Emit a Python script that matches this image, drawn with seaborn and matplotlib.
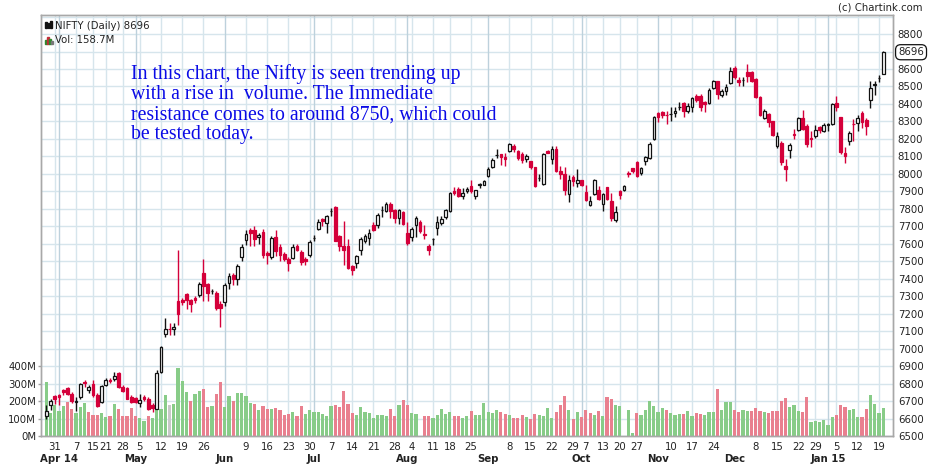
import numpy as np
import pandas as pd
import seaborn as sns
import matplotlib.pyplot as plt
from matplotlib.patches import Rectangle

# trading days shown on the chart, grouped by month
month_days = [
    ('2014-03', [27, 28, 31]),
    ('2014-04', [1, 2, 3, 4, 7, 9, 10, 11, 15, 16, 17, 21, 22, 23, 25, 28, 29, 30]),
    ('2014-05', [2, 5, 6, 7, 8, 9, 12, 13, 14, 15, 16, 19, 20, 21, 22, 23, 26, 27, 28, 29, 30]),
    ('2014-06', [2, 3, 4, 5, 6, 9, 10, 11, 12, 13, 16, 17, 18, 19, 20, 23, 24, 25, 26, 27, 30]),
    ('2014-07', [1, 2, 3, 4, 7, 8, 9, 10, 11, 14, 15, 16, 17, 18, 21, 22, 23, 24, 25, 28, 30, 31]),
    ('2014-08', [1, 4, 5, 6, 7, 8, 11, 12, 13, 14, 18, 19, 20, 21, 22, 25, 26, 27, 28]),
    ('2014-09', [1, 2, 3, 4, 5, 8, 9, 10, 11, 12, 15, 16, 17, 18, 19, 22, 23, 24, 25, 26, 29, 30]),
    ('2014-10', [1, 7, 8, 9, 10, 13, 14, 16, 17, 20, 21, 22, 23, 27, 28, 29, 30, 31]),
    ('2014-11', [3, 5, 7, 10, 11, 12, 13, 14, 17, 18, 19, 20, 21, 24, 25, 26, 27, 28]),
    ('2014-12', [1, 2, 3, 4, 5, 8, 9, 10, 11, 12, 15, 16, 17, 18, 19, 22, 23, 24, 26, 29, 30, 31]),
    ('2015-01', [1, 2, 5, 6, 7, 8, 9, 12, 13, 14, 15, 16, 19, 20]),
]

opens = [
    6615, 6675, 6730,
    6734, 6761, 6776, 6743, 6695, 6726, 6808, 6761, 6797, 6734, 6696, 6789, 6822, 6824, 6860, 6782, 6774, 6724,
    6715, 6686, 6722, 6711, 6677, 6657, 6864, 7082, 7113, 7111, 7272, 7279, 7315, 7279, 7292, 7306, 7435, 7367, 7327, 7319, 7258,
    7267, 7376, 7424, 7399, 7525, 7620, 7681, 7676, 7638, 7668, 7546, 7523, 7641, 7582, 7542, 7515, 7519, 7590, 7554, 7515, 7533,
    7632, 7683, 7740, 7720, 7788, 7809, 7643, 7589, 7589, 7475, 7490, 7563, 7614, 7633, 7706, 7706, 7793, 7786, 7828, 7794, 7748, 7782,
    7664, 7641, 7710, 7725, 7654, 7589, 7625, 7690, 7719, 7752, 7786, 7904, 7916, 7872, 7900, 7933, 7872, 7938, 7939,
    7986, 8040, 8108, 8114, 8099, 8130, 8162, 8133, 8116, 8086, 8072, 8038, 7975, 7944, 8130, 8086, 8145, 8019, 8002, 7885, 7981, 7948,
    7962, 7897, 7824, 7885, 7910, 7828, 7927, 7843, 7736, 7901, 7910, 8005, 8033, 8066, 8003, 8075, 8088, 8199,
    8346, 8352, 8337, 8340, 8346, 8382, 8403, 8362, 8381, 8444, 8444, 8409, 8405, 8491, 8529, 8451, 8476, 8518,
    8604, 8537, 8535, 8581, 8585, 8543, 8442, 8318, 8342, 8301, 8160, 8175, 8046, 8137, 8227, 8252, 8322, 8271, 8203, 8214, 8266, 8244,
    8280, 8284, 8408, 8326, 8122, 8189, 8287, 8290, 8347, 8307, 8424, 8510, 8548, 8574,
]
highs = [
    6675, 6710, 6735,
    6740, 6770, 6782, 6751, 6724, 6806, 6820, 6791, 6820, 6744, 6791, 6833, 6831, 6866, 6866, 6789, 6782, 6732,
    6722, 6743, 6732, 6724, 6686, 6878, 7017, 7174, 7146, 7146, 7563, 7288, 7320, 7285, 7300, 7382, 7510, 7375, 7343, 7328, 7275,
    7376, 7432, 7432, 7487, 7596, 7680, 7691, 7700, 7662, 7682, 7557, 7643, 7681, 7596, 7553, 7523, 7596, 7596, 7567, 7523, 7624,
    7649, 7739, 7748, 7764, 7802, 7815, 7652, 7731, 7629, 7480, 7538, 7641, 7656, 7687, 7725, 7776, 7816, 7838, 7839, 7797, 7801, 7786,
    7725, 7694, 7757, 7738, 7710, 7599, 7633, 7757, 7761, 7801, 7897, 7923, 7923, 7920, 7923, 7967, 7910, 7948, 7967,
    8040, 8091, 8145, 8114, 8120, 8177, 8172, 8139, 8126, 8114, 8072, 8038, 7998, 8120, 8139, 8158, 8158, 8044, 8038, 7996, 7992, 8030,
    7967, 7939, 7872, 7973, 7929, 7891, 7927, 7891, 7818, 7910, 7939, 8015, 8035, 8072, 8037, 8104, 8182, 8329,
    8352, 8362, 8362, 8381, 8384, 8413, 8409, 8403, 8438, 8457, 8457, 8419, 8491, 8537, 8533, 8486, 8514, 8613,
    8619, 8552, 8552, 8629, 8591, 8549, 8448, 8371, 8346, 8301, 8240, 8189, 8084, 8175, 8259, 8328, 8364, 8284, 8246, 8278, 8271, 8290,
    8290, 8408, 8443, 8328, 8151, 8246, 8313, 8336, 8359, 8321, 8532, 8532, 8565, 8704,
]
lows = [
    6596, 6648, 6683,
    6678, 6734, 6732, 6686, 6644, 6709, 6782, 6744, 6721, 6667, 6686, 6785, 6805, 6816, 6772, 6749, 6709, 6686,
    6690, 6667, 6698, 6648, 6638, 6652, 6858, 7069, 7078, 7078, 7133, 7250, 7228, 7208, 7260, 7294, 7271, 7271, 7313, 7223, 7122,
    7242, 7340, 7366, 7363, 7500, 7595, 7586, 7586, 7600, 7519, 7487, 7515, 7529, 7500, 7500, 7443, 7510, 7561, 7481, 7481, 7525,
    7615, 7676, 7700, 7662, 7758, 7614, 7557, 7480, 7458, 7419, 7462, 7534, 7604, 7595, 7671, 7690, 7755, 7782, 7748, 7721, 7713, 7710,
    7591, 7618, 7641, 7662, 7629, 7538, 7595, 7652, 7710, 7742, 7782, 7878, 7870, 7857, 7891, 7891, 7858, 7920, 7935,
    7980, 8034, 8088, 8053, 8047, 8126, 8126, 8082, 8063, 8069, 8027, 7923, 7958, 7938, 8118, 8057, 8011, 7973, 7881, 7837, 7929, 7923,
    7929, 7843, 7815, 7881, 7853, 7790, 7853, 7733, 7725, 7857, 7900, 7980, 8006, 7983, 7995, 8052, 8083, 8193,
    8298, 8320, 8285, 8304, 8323, 8365, 8323, 8346, 8352, 8409, 8362, 8352, 8400, 8487, 8428, 8438, 8453, 8514,
    8543, 8505, 8505, 8524, 8524, 8434, 8333, 8314, 8270, 8218, 8150, 8050, 7960, 8088, 8202, 8246, 8252, 8151, 8151, 8208, 8236, 8240,
    8246, 8278, 8361, 8112, 8061, 8164, 8189, 8246, 8265, 8221, 8374, 8450, 8527, 8570,
]
closes = [
    6644, 6698, 6709,
    6721, 6751, 6738, 6698, 6700, 6799, 6801, 6778, 6734, 6673, 6786, 6820, 6812, 6843, 6782, 6759, 6713, 6694,
    6692, 6705, 6713, 6657, 6659, 6858, 7011, 7111, 7111, 7122, 7200, 7264, 7279, 7256, 7279, 7370, 7357, 7317, 7328, 7233, 7231,
    7366, 7418, 7401, 7475, 7582, 7655, 7660, 7626, 7653, 7538, 7535, 7634, 7557, 7538, 7510, 7491, 7582, 7567, 7494, 7504, 7611,
    7634, 7725, 7728, 7756, 7790, 7618, 7586, 7566, 7461, 7452, 7532, 7627, 7643, 7662, 7681, 7767, 7794, 7828, 7786, 7748, 7796, 7715,
    7603, 7685, 7748, 7671, 7652, 7566, 7626, 7725, 7744, 7794, 7892, 7889, 7872, 7891, 7916, 7904, 7906, 7940, 7958,
    8030, 8082, 8110, 8095, 8084, 8172, 8145, 8091, 8082, 8105, 8038, 7929, 7977, 8114, 8120, 8143, 8015, 8000, 7910, 7967, 7958, 7967,
    7939, 7849, 7847, 7962, 7858, 7885, 7858, 7748, 7782, 7878, 7929, 8001, 8014, 7989, 8033, 8094, 8171, 8323,
    8325, 8337, 8335, 8343, 8362, 8384, 8358, 8390, 8432, 8425, 8381, 8400, 8480, 8529, 8457, 8476, 8497, 8587,
    8556, 8524, 8537, 8562, 8533, 8438, 8339, 8358, 8295, 8221, 8217, 8068, 8026, 8164, 8225, 8322, 8259, 8172, 8200, 8250, 8252, 8282,
    8284, 8399, 8380, 8126, 8103, 8236, 8284, 8322, 8298, 8275, 8494, 8513, 8550, 8696,
]
# volume in millions (nan = no bar drawn)
volumes = [
    309, 134, 179,
    143, 172, 193, 155, 134, 166, 189, 137, 122, 122, 132, 109, 115, 183, 155, 115, 115, 162,
    115, 103, 86, 115, 103, 149, 155, 233, 179, 183, 391, 315, 252, 200, 241, 258, 269, 168, 172, 241, 309,
    168, 231, 202, 246, 246, 229, 189, 183, 149, 172, 153, 157, 160, 149, 120, 126, 137, 115, 172, 126, 149,
    137, 137, 126, 115, 172, 178, 166, 258, 185, 132, 120, 166, 138, 132, 103, 120, 120, 115, 155, 115, 178, 207,
    178, 130, 126, np.nan, 115, 115, 103, 120, 155, 126, 138, 115, 115, 103, 115, 143, 120, 120, 191,
    138, 132, 149, 138, 126, 120, 103, 103, 120, 109, 98, 126, 120, 115, 161, 103, 138, 178, 229, 149, 98, 138,
    109, 149, 132, 120, 143, 115, 224, 212, 178, 172, np.nan, 149, 17, 132, 120, 149, 200, 172,
    137, 160, 149, 132, 120, 126, 126, 143, 115, 132, 126, 120, 137, 137, 269, 149, 195, 195,
    149, 137, 149, 143, 143, 160, 143, 137, 132, 141, 141, 199, 216, 164, 176, 141, 136, 222, 78, 84, 78, 90,
    61, 107, 118, 176, 164, 147, 153, 107, 107, 153, 233, 181, 130, 158.7,
]

week_ticks = ['2014-03-31', '2014-04-07', '2014-04-15', '2014-04-21', '2014-04-28', '2014-05-05',
              '2014-05-12', '2014-05-19', '2014-05-26', '2014-06-09', '2014-06-16', '2014-06-23',
              '2014-06-30', '2014-07-07', '2014-07-14', '2014-07-21', '2014-07-28', '2014-08-04',
              '2014-08-11', '2014-08-18', '2014-08-25', '2014-09-08', '2014-09-15', '2014-09-22',
              '2014-09-29', '2014-10-07', '2014-10-13', '2014-10-20', '2014-10-27', '2014-11-10',
              '2014-11-17', '2014-11-24', '2014-12-08', '2014-12-15', '2014-12-22', '2014-12-29',
              '2015-01-05', '2015-01-12', '2015-01-19']
month_ticks = ['2014-04-01', '2014-05-02', '2014-06-02', '2014-07-01', '2014-08-01',
               '2014-09-01', '2014-10-01', '2014-11-03', '2014-12-01', '2015-01-01']
month_labels = ['Apr 14', 'May', 'Jun', 'Jul', 'Aug', 'Sep', 'Oct', 'Nov', 'Dec', 'Jan 15']

note = ("In this chart, the Nifty is seen trending up\n"
        "with a rise in  volume. The Immediate\n"
        "resistance comes to around 8750, which could\n"
        "be tested today.")

# build the frame
dates = [f'{m}-{d:02d}' for m, days in month_days for d in days]
df = pd.DataFrame({'date': dates, 'open': opens, 'high': highs, 'low': lows,
                   'close': closes, 'volume': volumes})
df['idx'] = np.arange(len(df))
pos = dict(zip(df['date'], df['idx']))

prev = df['close'].shift(1)
df['vol_dir'] = np.where(prev.isna() | (df['close'] > prev), 'up',
                         np.where(df['close'] < prev, 'down', 'flat'))

sns.set_style('white')
plt.rcParams['font.family'] = ['DejaVu Sans']

RED = '#d4003a'
GRID = '#d6e5ec'
GRID_M = '#bdd1dc'
TXT = '#222222'

W, H = 930, 465
fig = plt.figure(figsize=(W / 100, H / 100), dpi=100)
fig.patch.set_facecolor('white')

ax_vol = fig.add_axes([41 / W, 1 - 436 / H, 852 / W, 421 / H])
ax = ax_vol.twinx()

xmin, xmax = -1.25, 199.3
pmin, pmax = 6500, 8909

# grid on the bottom axes
for p in range(0, 2401, 100):
    ax_vol.axhline(p, color=GRID, lw=1, zorder=0.5)
for d in week_ticks:
    ax_vol.axvline(pos[d], color=GRID, lw=1, zorder=0.5)
for d in month_ticks:
    ax_vol.axvline(pos[d], color=GRID_M, lw=1, zorder=0.6)

# volume bars
vol_df = df.dropna(subset=['volume'])
sns.barplot(data=vol_df, x='idx', y='volume', hue='vol_dir',
            palette={'up': '#88cc88', 'down': '#e9808f', 'flat': '#c8c8c8'},
            native_scale=True, width=0.75, dodge=False, errorbar=None,
            saturation=1, legend=False, linewidth=0, ax=ax_vol, zorder=2)

ax_vol.set_xlim(xmin, xmax)
ax_vol.set_ylim(0, pmax - pmin)
ax_vol.set_xlabel('')
ax_vol.set_ylabel('')
ax_vol.set_yticks([0, 100, 200, 300, 400])
ax_vol.set_yticklabels(['0M', '100M', '200M', '300M', '400M'])
ax_vol.tick_params(axis='y', length=2, width=1, color='#a0a0a0', pad=1.5,
                   labelsize=7.3, labelcolor=TXT)

ax_vol.set_xticks([pos[d] for d in month_ticks], labels=month_labels)
ax_vol.set_xticks([pos[d] for d in week_ticks],
                  labels=[str(int(d[-2:])) for d in week_ticks], minor=True)
ax_vol.tick_params(axis='x', which='major', length=6, width=1, color='#a0a0a0',
                   pad=7, labelsize=7.3, labelcolor=TXT)
ax_vol.tick_params(axis='x', which='minor', length=2.5, width=1, color='#a0a0a0',
                   pad=1.5, labelsize=7.3, labelcolor=TXT)
for t in ax_vol.get_xticklabels():
    t.set_fontweight('bold')

# candles
up = df['close'] >= df['open']
wick_col = np.where(up, '#111111', RED)
face_col = np.where(up, 'white', RED)
ax.vlines(df['idx'], df['low'], df['high'], colors=wick_col, lw=1, zorder=3)
body_lo = np.minimum(df['open'], df['close'])
body_h = (df['close'] - df['open']).abs()
ax.bar(df['idx'], body_h, bottom=body_lo, width=0.62, color=face_col,
       edgecolor=wick_col, linewidth=0.9, zorder=4)

ax.set_xlim(xmin, xmax)
ax.set_ylim(pmin, pmax)
pticks = list(range(6500, 8801, 100))
ax.set_yticks(pticks)
ax.set_yticklabels(['' if p == 8700 else str(p) for p in pticks])
ax.tick_params(axis='y', length=0, pad=3.5, labelsize=7.3, labelcolor=TXT)

for a in (ax, ax_vol):
    for s in a.spines.values():
        s.set_color('#a8a8a8')
        s.set_linewidth(1)

# last price tag
ax.text(1.006, closes[-1], str(closes[-1]), transform=ax.get_yaxis_transform(),
        ha='left', va='center', fontsize=7.3, color=TXT, clip_on=False, zorder=10,
        bbox=dict(boxstyle='round,pad=0.25,rounding_size=0.5', fc='white', ec='#111111', lw=0.9))

# header, icons and note
fig.text(55 / W, 1 - 26 / H, f'NIFTY (Daily) {closes[-1]}', fontsize=7.3, color=TXT,
         ha='left', va='center')
fig.text(55 / W, 1 - 40 / H, f'Vol: {volumes[-1]:.1f}M', fontsize=7.3, color=TXT,
         ha='left', va='center')
for x0, y0, h, c in [(45, 22, 6, '#111111'), (47.5, 23, 5, '#111111'), (50, 21, 7, '#111111')]:
    fig.add_artist(Rectangle((x0 / W, 1 - (y0 + h) / H), 1.5 / W, h / H,
                             transform=fig.transFigure, color=c))
for x0, h, c in [(45, 4, '#2e8b2e'), (47, 7, '#c0303a'), (49, 5, '#2e8b2e'), (51, 3, '#777777')]:
    fig.add_artist(Rectangle((x0 / W, 1 - 44 / H), 1.6 / W, h / H,
                             transform=fig.transFigure, color=c))

fig.text(922 / W, 1 - 7 / H, '(c) Chartink.com', fontsize=7.3, color=TXT,
         ha='right', va='center')

fig.text(131 / W, 1 - 64.5 / H, note, fontsize=14.2, family='Liberation Serif',
         color='#0a0ae6', ha='left', va='top', linespacing=1.07)

fig.savefig('out.png', dpi=100, facecolor='white')
